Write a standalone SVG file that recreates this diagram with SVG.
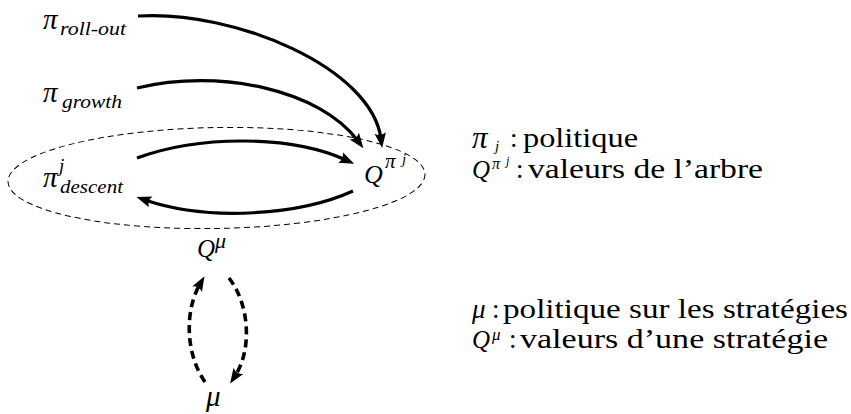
<svg xmlns="http://www.w3.org/2000/svg" width="851" height="414" viewBox="0 0 851 414">
<defs>
<marker id="ah" viewBox="0 0 15 12" refX="6" refY="6" markerWidth="15" markerHeight="12" markerUnits="userSpaceOnUse" orient="auto">
<path d="M0,0.3 L15,6 L0,11.7 Q4,6 0,0.3 Z" fill="#000"/>
</marker>
<style>
text{font-family:'Liberation Serif','Times New Roman',Times,serif;fill:#000}
.m{font-style:italic}
.s{font-style:italic}
.solid{fill:none;stroke:#000;stroke-width:3.2;marker-end:url(#ah)}
.dash{fill:none;stroke:#000;stroke-width:3.6;stroke-dasharray:8 5;marker-end:url(#ah)}
</style>
</defs>
<rect width="851" height="414" fill="#fff"/>
<g id="cluster">
<ellipse cx="216.5" cy="178" rx="208.5" ry="50.5" transform="rotate(-1 216.5 178)" fill="none" stroke="#000" stroke-width="1" stroke-dasharray="6 4"/>
</g>
<g id="n-rollout">
<text class="m" x="43" y="29" font-size="29">π</text>
<text class="s" x="60" y="35" font-size="18" textLength="66" lengthAdjust="spacingAndGlyphs">roll-out</text>
</g>
<g id="n-growth">
<text class="m" x="43" y="102" font-size="29">π</text>
<text class="s" x="62" y="108" font-size="18" textLength="60" lengthAdjust="spacingAndGlyphs">growth</text>
</g>
<g id="n-descent">
<text class="m" x="43" y="187" font-size="29">π</text>
<text class="m" x="59" y="172" font-size="19">j</text>
<text class="s" x="60" y="193" font-size="18" textLength="63" lengthAdjust="spacingAndGlyphs">descent</text>
</g>
<g id="n-qpij">
<text class="m" x="364" y="183" font-size="26">Q</text>
<text class="m" x="385" y="168" font-size="21">π</text>
<text class="m" x="402" y="164" font-size="15">j</text>
</g>
<g id="n-qmu">
<text class="m" x="197" y="257" font-size="25">Q</text>
<text class="m" x="215" y="248" font-size="22">μ</text>
</g>
<g id="n-mu">
<text class="m" x="206" y="406" font-size="29">μ</text>
</g>
<g id="connectors">
<path class="solid" d="M138,16 C235,10 372,68 381,139"/>
<path class="solid" d="M137,88 C220,68 320,90 358,141"/>
<path class="solid" d="M137,158 C200,135 290,135 346,160"/>
<path class="solid" d="M353,191 C300,215 210,222 145,200"/>
<path class="dash" d="M205,382 C186,355 184,312 200,284"/>
<path class="dash" d="M229,278 C250,305 252,350 235,376"/>
</g>
<g id="legend">
<text class="m" x="472" y="148" font-size="31">π</text>
<text class="m" x="495" y="151" font-size="15">j</text>
<text x="510" y="147" font-size="27">:</text>
<text x="523" y="147" font-size="27" textLength="115" lengthAdjust="spacingAndGlyphs">politique</text>
<text class="m" x="472" y="178" font-size="25">Q</text>
<text class="m" x="492" y="169" font-size="16">π</text>
<text class="m" x="506" y="165" font-size="12">j</text>
<text x="516" y="178" font-size="27">:</text>
<text x="528" y="178" font-size="27" textLength="235" lengthAdjust="spacingAndGlyphs">valeurs de l’arbre</text>
<text class="m" x="472" y="318" font-size="27">μ</text>
<text x="492" y="318" font-size="27">:</text>
<text x="503" y="318" font-size="27" textLength="345" lengthAdjust="spacingAndGlyphs">politique sur les stratégies</text>
<text class="m" x="472" y="348" font-size="25">Q</text>
<text class="m" x="492" y="340" font-size="17">μ</text>
<text x="509" y="348" font-size="27">:</text>
<text x="520" y="348" font-size="27" textLength="308" lengthAdjust="spacingAndGlyphs">valeurs d’une stratégie</text>
</g>
</svg>
